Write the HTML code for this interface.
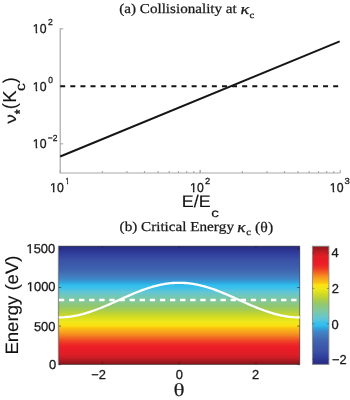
<!DOCTYPE html><html><head><meta charset="utf-8"><title>Collisionality and Critical Energy</title><style>html,body{margin:0;padding:0;background:#fff;width:350px;height:400px;overflow:hidden}svg{display:block;filter:blur(0.4px)}text{font-kerning:none;text-rendering:geometricPrecision}</style></head><body>
<svg width="350" height="400" viewBox="0 0 350 400">
<defs>
<linearGradient id="cb" x1="0" y1="1" x2="0" y2="0"><stop offset="0.0" stop-color="#262b80"/><stop offset="0.0321" stop-color="#2c3490"/><stop offset="0.0745" stop-color="#3242a0"/><stop offset="0.1168" stop-color="#3a52a6"/><stop offset="0.1591" stop-color="#3c5aab"/><stop offset="0.2014" stop-color="#3f64b0"/><stop offset="0.2437" stop-color="#4377ba"/><stop offset="0.2775" stop-color="#3d86c8"/><stop offset="0.3113" stop-color="#30a8e0"/><stop offset="0.3283" stop-color="#2ebdee"/><stop offset="0.3536" stop-color="#3cc0e8"/><stop offset="0.3875" stop-color="#62c6d6"/><stop offset="0.4213" stop-color="#72c8b8"/><stop offset="0.4552" stop-color="#80c8a0"/><stop offset="0.4805" stop-color="#8ac888"/><stop offset="0.5059" stop-color="#90c870"/><stop offset="0.5398" stop-color="#a8cc50"/><stop offset="0.5736" stop-color="#c2d530"/><stop offset="0.6074" stop-color="#dbdf20"/><stop offset="0.6413" stop-color="#f0e81a"/><stop offset="0.6751" stop-color="#fce012"/><stop offset="0.692" stop-color="#fbc20f"/><stop offset="0.7174" stop-color="#f8aa1e"/><stop offset="0.7428" stop-color="#f5921e"/><stop offset="0.7766" stop-color="#f26522"/><stop offset="0.8105" stop-color="#ee3a24"/><stop offset="0.8443" stop-color="#ec2027"/><stop offset="0.8782" stop-color="#e81c25"/><stop offset="0.912" stop-color="#e01e26"/><stop offset="0.9459" stop-color="#c81c24"/><stop offset="0.9712" stop-color="#a81a20"/><stop offset="1.0" stop-color="#8a1519"/></linearGradient>
<linearGradient id="im" x1="0" y1="0" x2="0" y2="1"><stop offset="0.0" stop-color="#262b80"/><stop offset="0.0321" stop-color="#2c3490"/><stop offset="0.0745" stop-color="#3242a0"/><stop offset="0.1168" stop-color="#3a52a6"/><stop offset="0.1591" stop-color="#3c5aab"/><stop offset="0.2014" stop-color="#3f64b0"/><stop offset="0.2437" stop-color="#4377ba"/><stop offset="0.2775" stop-color="#3d86c8"/><stop offset="0.3113" stop-color="#30a8e0"/><stop offset="0.3283" stop-color="#2ebdee"/><stop offset="0.3536" stop-color="#3cc0e8"/><stop offset="0.3875" stop-color="#62c6d6"/><stop offset="0.4213" stop-color="#72c8b8"/><stop offset="0.4552" stop-color="#80c8a0"/><stop offset="0.4805" stop-color="#8ac888"/><stop offset="0.5059" stop-color="#90c870"/><stop offset="0.5398" stop-color="#a8cc50"/><stop offset="0.5736" stop-color="#c2d530"/><stop offset="0.6074" stop-color="#dbdf20"/><stop offset="0.6413" stop-color="#f0e81a"/><stop offset="0.6751" stop-color="#fce012"/><stop offset="0.692" stop-color="#fbc20f"/><stop offset="0.7174" stop-color="#f8aa1e"/><stop offset="0.7428" stop-color="#f5921e"/><stop offset="0.7766" stop-color="#f26522"/><stop offset="0.8105" stop-color="#ee3a24"/><stop offset="0.8443" stop-color="#ec2027"/><stop offset="0.8782" stop-color="#e81c25"/><stop offset="0.912" stop-color="#e01e26"/><stop offset="0.9459" stop-color="#c81c24"/><stop offset="0.9712" stop-color="#a81a20"/><stop offset="1.0" stop-color="#8a1519"/></linearGradient>
</defs>
<path d="M60.2 28.3V173.0H340.2" fill="none" stroke="#a8a8a8" stroke-width="1.2"/>
<line x1="60.2" y1="28.80" x2="63.2" y2="28.80" stroke="#a8a8a8" stroke-width="1.1"/>
<line x1="60.2" y1="86.30" x2="63.2" y2="86.30" stroke="#a8a8a8" stroke-width="1.1"/>
<line x1="60.2" y1="143.80" x2="63.2" y2="143.80" stroke="#a8a8a8" stroke-width="1.1"/>
<line x1="60.20" y1="173.0" x2="60.20" y2="170.0" stroke="#a8a8a8" stroke-width="1.1"/>
<line x1="102.34" y1="173.0" x2="102.34" y2="171.0" stroke="#a8a8a8" stroke-width="1.1"/>
<line x1="127.00" y1="173.0" x2="127.00" y2="171.0" stroke="#a8a8a8" stroke-width="1.1"/>
<line x1="144.49" y1="173.0" x2="144.49" y2="171.0" stroke="#a8a8a8" stroke-width="1.1"/>
<line x1="158.06" y1="173.0" x2="158.06" y2="171.0" stroke="#a8a8a8" stroke-width="1.1"/>
<line x1="169.14" y1="173.0" x2="169.14" y2="171.0" stroke="#a8a8a8" stroke-width="1.1"/>
<line x1="178.51" y1="173.0" x2="178.51" y2="171.0" stroke="#a8a8a8" stroke-width="1.1"/>
<line x1="186.63" y1="173.0" x2="186.63" y2="171.0" stroke="#a8a8a8" stroke-width="1.1"/>
<line x1="193.79" y1="173.0" x2="193.79" y2="171.0" stroke="#a8a8a8" stroke-width="1.1"/>
<line x1="200.20" y1="173.0" x2="200.20" y2="170.0" stroke="#a8a8a8" stroke-width="1.1"/>
<line x1="200.20" y1="173.0" x2="200.20" y2="170.0" stroke="#a8a8a8" stroke-width="1.1"/>
<line x1="242.34" y1="173.0" x2="242.34" y2="171.0" stroke="#a8a8a8" stroke-width="1.1"/>
<line x1="267.00" y1="173.0" x2="267.00" y2="171.0" stroke="#a8a8a8" stroke-width="1.1"/>
<line x1="284.49" y1="173.0" x2="284.49" y2="171.0" stroke="#a8a8a8" stroke-width="1.1"/>
<line x1="298.06" y1="173.0" x2="298.06" y2="171.0" stroke="#a8a8a8" stroke-width="1.1"/>
<line x1="309.14" y1="173.0" x2="309.14" y2="171.0" stroke="#a8a8a8" stroke-width="1.1"/>
<line x1="318.51" y1="173.0" x2="318.51" y2="171.0" stroke="#a8a8a8" stroke-width="1.1"/>
<line x1="326.63" y1="173.0" x2="326.63" y2="171.0" stroke="#a8a8a8" stroke-width="1.1"/>
<line x1="333.79" y1="173.0" x2="333.79" y2="171.0" stroke="#a8a8a8" stroke-width="1.1"/>
<line x1="340.20" y1="173.0" x2="340.20" y2="170.0" stroke="#a8a8a8" stroke-width="1.1"/>
<line x1="60.2" y1="86.3" x2="339.7" y2="86.3" stroke="#151515" stroke-width="1.9" stroke-dasharray="5 5.11"/>
<line x1="60.2" y1="156.5" x2="339.7" y2="41.4" stroke="#151515" stroke-width="1.9"/>
<rect x="58.6" y="246.2" width="241.1" height="118.19999999999999" fill="url(#im)"/>
<rect x="58.6" y="246.2" width="241.1" height="118.19999999999999" fill="none" stroke="#000" stroke-opacity="0.5" stroke-width="1"/>
<polyline points="58.46,317.40 60.47,317.38 62.48,317.31 64.49,317.19 66.51,317.02 68.52,316.81 70.53,316.55 72.54,316.25 74.55,315.90 76.56,315.51 78.57,315.08 80.58,314.61 82.59,314.10 84.60,313.54 86.61,312.96 88.62,312.33 90.63,311.68 92.64,310.99 94.65,310.27 96.66,309.52 98.68,308.75 100.69,307.95 102.70,307.14 104.71,306.30 106.72,305.45 108.73,304.58 110.74,303.70 112.75,302.81 114.76,301.91 116.77,301.01 118.78,300.10 120.79,299.19 122.80,298.29 124.81,297.39 126.82,296.50 128.83,295.62 130.85,294.75 132.86,293.90 134.87,293.06 136.88,292.25 138.89,291.45 140.90,290.68 142.91,289.93 144.92,289.21 146.93,288.52 148.94,287.87 150.95,287.24 152.96,286.66 154.97,286.10 156.98,285.59 158.99,285.12 161.00,284.69 163.02,284.30 165.03,283.95 167.04,283.65 169.05,283.39 171.06,283.18 173.07,283.01 175.08,282.89 177.09,282.82 179.10,282.80 181.11,282.82 183.12,282.89 185.13,283.01 187.14,283.18 189.15,283.39 191.16,283.65 193.17,283.95 195.18,284.30 197.20,284.69 199.21,285.12 201.22,285.59 203.23,286.10 205.24,286.66 207.25,287.24 209.26,287.87 211.27,288.52 213.28,289.21 215.29,289.93 217.30,290.68 219.31,291.45 221.32,292.25 223.33,293.06 225.34,293.90 227.35,294.75 229.37,295.62 231.38,296.50 233.39,297.39 235.40,298.29 237.41,299.19 239.42,300.10 241.43,301.01 243.44,301.91 245.45,302.81 247.46,303.70 249.47,304.58 251.48,305.45 253.49,306.30 255.50,307.14 257.51,307.95 259.52,308.75 261.54,309.52 263.55,310.27 265.56,310.99 267.57,311.68 269.58,312.33 271.59,312.96 273.60,313.54 275.61,314.10 277.62,314.61 279.63,315.08 281.64,315.51 283.65,315.90 285.66,316.25 287.67,316.55 289.68,316.81 291.69,317.02 293.71,317.19 295.72,317.31 297.73,317.38 299.74,317.40" fill="none" stroke="#fff" stroke-width="2.3"/>
<line x1="58.9" y1="300" x2="299.7" y2="300" stroke="#fff" stroke-width="2.3" stroke-dasharray="5.3 4.8"/>
<line x1="102.30" y1="364.4" x2="102.30" y2="361.9" stroke="#222" stroke-opacity="0.6" stroke-width="1"/>
<line x1="102.30" y1="246.2" x2="102.30" y2="248.7" stroke="#222" stroke-opacity="0.6" stroke-width="1"/>
<line x1="179.10" y1="364.4" x2="179.10" y2="361.9" stroke="#222" stroke-opacity="0.6" stroke-width="1"/>
<line x1="179.10" y1="246.2" x2="179.10" y2="248.7" stroke="#222" stroke-opacity="0.6" stroke-width="1"/>
<line x1="255.90" y1="364.4" x2="255.90" y2="361.9" stroke="#222" stroke-opacity="0.6" stroke-width="1"/>
<line x1="255.90" y1="246.2" x2="255.90" y2="248.7" stroke="#222" stroke-opacity="0.6" stroke-width="1"/>
<line x1="58.6" y1="364.70" x2="61.1" y2="364.70" stroke="#222" stroke-opacity="0.6" stroke-width="1"/>
<line x1="299.7" y1="364.70" x2="297.2" y2="364.70" stroke="#222" stroke-opacity="0.6" stroke-width="1"/>
<line x1="58.6" y1="326.10" x2="61.1" y2="326.10" stroke="#222" stroke-opacity="0.6" stroke-width="1"/>
<line x1="299.7" y1="326.10" x2="297.2" y2="326.10" stroke="#222" stroke-opacity="0.6" stroke-width="1"/>
<line x1="58.6" y1="287.50" x2="61.1" y2="287.50" stroke="#222" stroke-opacity="0.6" stroke-width="1"/>
<line x1="299.7" y1="287.50" x2="297.2" y2="287.50" stroke="#222" stroke-opacity="0.6" stroke-width="1"/>
<line x1="58.6" y1="248.90" x2="61.1" y2="248.90" stroke="#222" stroke-opacity="0.6" stroke-width="1"/>
<line x1="299.7" y1="248.90" x2="297.2" y2="248.90" stroke="#222" stroke-opacity="0.6" stroke-width="1"/>
<line x1="58.300000000000004" y1="246.2" x2="58.300000000000004" y2="364.4" stroke="#999" stroke-width="0.8"/>
<rect x="312.4" y="246.2" width="16.5" height="118.19999999999999" fill="url(#cb)" stroke="#8a8a8a" stroke-width="0.9"/>
<line x1="312.4" y1="253.0" x2="314.4" y2="253.0" stroke="#333" stroke-opacity="0.6" stroke-width="0.8"/>
<line x1="328.9" y1="253.0" x2="326.9" y2="253.0" stroke="#333" stroke-opacity="0.6" stroke-width="0.8"/>
<line x1="312.4" y1="288.4" x2="314.4" y2="288.4" stroke="#333" stroke-opacity="0.6" stroke-width="0.8"/>
<line x1="328.9" y1="288.4" x2="326.9" y2="288.4" stroke="#333" stroke-opacity="0.6" stroke-width="0.8"/>
<line x1="312.4" y1="323.8" x2="314.4" y2="323.8" stroke="#333" stroke-opacity="0.6" stroke-width="0.8"/>
<line x1="328.9" y1="323.8" x2="326.9" y2="323.8" stroke="#333" stroke-opacity="0.6" stroke-width="0.8"/>
<line x1="312.4" y1="359.2" x2="314.4" y2="359.2" stroke="#333" stroke-opacity="0.6" stroke-width="0.8"/>
<line x1="328.9" y1="359.2" x2="326.9" y2="359.2" stroke="#333" stroke-opacity="0.6" stroke-width="0.8"/>
<text id="ya2_10" transform="translate(32.87 33.34) scale(0.9500 1)" font-family="'Liberation Sans', sans-serif" font-size="12.90" fill="#1a1a1a" stroke="#1a1a1a" stroke-width="0.3" stroke-linejoin="round">10</text>
<text id="ya2_e" transform="translate(47.89 24.85) scale(0.9782 1)" font-family="'Liberation Sans', sans-serif" font-size="8.80" fill="#1a1a1a" stroke="#1a1a1a" stroke-width="0.3" stroke-linejoin="round">2</text>
<text id="ya0_10" transform="translate(32.87 91.18) scale(0.9500 1)" font-family="'Liberation Sans', sans-serif" font-size="12.90" fill="#1a1a1a" stroke="#1a1a1a" stroke-width="0.3" stroke-linejoin="round">10</text>
<text id="ya0_e" transform="translate(48.23 83.04) scale(0.9554 1)" font-family="'Liberation Sans', sans-serif" font-size="8.80" fill="#1a1a1a" stroke="#1a1a1a" stroke-width="0.3" stroke-linejoin="round">0</text>
<text id="yam2_10" transform="translate(32.87 148.42) scale(0.9500 1)" font-family="'Liberation Sans', sans-serif" font-size="12.90" fill="#1a1a1a" stroke="#1a1a1a" stroke-width="0.3" stroke-linejoin="round">10</text>
<text id="yam2_e" transform="translate(47.74 140.59) scale(0.9660 1)" font-family="'Liberation Sans', sans-serif" font-size="8.80" fill="#1a1a1a" stroke="#1a1a1a" stroke-width="0.3" stroke-linejoin="round">−2</text>
<text id="xa1_10" transform="translate(50.08 191.57) scale(0.9500 1)" font-family="'Liberation Sans', sans-serif" font-size="12.90" fill="#1a1a1a" stroke="#1a1a1a" stroke-width="0.3" stroke-linejoin="round">10</text>
<text id="xa1_e" transform="translate(65.62 183.67) scale(0.7456 1)" font-family="'Liberation Sans', sans-serif" font-size="8.80" fill="#1a1a1a" stroke="#1a1a1a" stroke-width="0.3" stroke-linejoin="round">1</text>
<text id="xa2_10" transform="translate(190.08 191.57) scale(0.9500 1)" font-family="'Liberation Sans', sans-serif" font-size="12.90" fill="#1a1a1a" stroke="#1a1a1a" stroke-width="0.3" stroke-linejoin="round">10</text>
<text id="xa2_e" transform="translate(204.95 183.57) scale(1.0615 1)" font-family="'Liberation Sans', sans-serif" font-size="8.80" fill="#1a1a1a" stroke="#1a1a1a" stroke-width="0.3" stroke-linejoin="round">2</text>
<text id="xa3_10" transform="translate(329.86 191.52) scale(0.9500 1)" font-family="'Liberation Sans', sans-serif" font-size="12.90" fill="#1a1a1a" stroke="#1a1a1a" stroke-width="0.3" stroke-linejoin="round">10</text>
<text id="xa3_e" transform="translate(344.62 183.74) scale(1.0750 1)" font-family="'Liberation Sans', sans-serif" font-size="8.80" fill="#1a1a1a" stroke="#1a1a1a" stroke-width="0.3" stroke-linejoin="round">3</text>
<text id="xl_EE" transform="translate(181.76 206.84) scale(1.0673 1)" font-family="'Liberation Sans', sans-serif" font-size="16.77" fill="#111" stroke="#111" stroke-width="0.15" stroke-linejoin="round">E/E</text>
<text id="xl_c" transform="translate(211.19 217.09) scale(1.2745 1)" font-family="'Liberation Sans', sans-serif" font-size="11.93" fill="#111" stroke="#111" stroke-width="0.15" stroke-linejoin="round">c</text>
<text id="yl_nu" transform="translate(15.80 123.84) rotate(-90) scale(1.2322 1)" font-family="'Liberation Sans', sans-serif" font-size="15.55" fill="#111" stroke="#111" stroke-width="0.15" stroke-linejoin="round">ν</text>
<text id="yl_st" transform="translate(24.87 114.25) rotate(-90) scale(0.8038 1)" font-family="'Liberation Sans', sans-serif" font-size="14.96" fill="#111" stroke="#111" stroke-width="0.5" stroke-linejoin="round">*</text>
<text id="yl_lp" transform="translate(16.23 109.13) rotate(-90) scale(0.9729 1)" font-family="'Liberation Sans', sans-serif" font-size="19.02" fill="#111" stroke="#111" stroke-width="0.15" stroke-linejoin="round">(</text>
<text id="yl_K" transform="translate(15.80 102.65) rotate(-90) scale(0.9856 1)" font-family="'Liberation Sans', sans-serif" font-size="18.72" fill="#111" stroke="#111" stroke-width="0.15" stroke-linejoin="round">K</text>
<text id="yl_c" transform="translate(25.24 90.94) rotate(-90) scale(1.1513 1)" font-family="'Liberation Sans', sans-serif" font-size="13.50" fill="#111" stroke="#111" stroke-width="0.15" stroke-linejoin="round">c</text>
<text id="yl_rp" transform="translate(16.43 82.99) rotate(-90) scale(0.8793 1)" font-family="'Liberation Sans', sans-serif" font-size="18.46" fill="#111" stroke="#111" stroke-width="0.15" stroke-linejoin="round">)</text>
<text id="ta_txt" transform="translate(119.30 13.28) scale(1.1113 1)" font-family="'Liberation Serif', serif" font-size="13.60" fill="#1a1a1a" stroke="#1a1a1a" stroke-width="0.25" stroke-linejoin="round">(a) Collisionality at</text>
<text id="ta_k" transform="translate(240.39 14.27) scale(1.1974 1)" font-family="'Liberation Serif', serif" font-size="15.20" fill="#1a1a1a" font-style="italic" stroke="#1a1a1a" stroke-width="0.3" stroke-linejoin="round">κ</text>
<text id="ta_c" transform="translate(249.58 17.68) scale(1.1627 1)" font-family="'Liberation Serif', serif" font-size="9.20" fill="#1a1a1a" stroke="#1a1a1a" stroke-width="0.3" stroke-linejoin="round">c</text>
<text id="yb_1500" transform="translate(26.50 253.04) scale(1.0000 1)" font-family="'Liberation Sans', sans-serif" font-size="12.90" fill="#1a1a1a" stroke="#1a1a1a" stroke-width="0.3" stroke-linejoin="round">1500</text>
<text id="yb_1000" transform="translate(26.83 291.32) scale(1.0000 1)" font-family="'Liberation Sans', sans-serif" font-size="12.90" fill="#1a1a1a" stroke="#1a1a1a" stroke-width="0.3" stroke-linejoin="round">1000</text>
<text id="yb_500" transform="translate(33.95 330.73) scale(1.0000 1)" font-family="'Liberation Sans', sans-serif" font-size="12.90" fill="#1a1a1a" stroke="#1a1a1a" stroke-width="0.3" stroke-linejoin="round">500</text>
<text id="yb_0" transform="translate(48.93 369.25) scale(1.0000 1)" font-family="'Liberation Sans', sans-serif" font-size="12.90" fill="#1a1a1a" stroke="#1a1a1a" stroke-width="0.3" stroke-linejoin="round">0</text>
<text id="xb_m2" transform="translate(91.26 378.85) scale(1.0000 1)" font-family="'Liberation Sans', sans-serif" font-size="12.90" fill="#1a1a1a" stroke="#1a1a1a" stroke-width="0.3" stroke-linejoin="round">−2</text>
<text id="xb_0" transform="translate(175.71 379.35) scale(1.0000 1)" font-family="'Liberation Sans', sans-serif" font-size="12.90" fill="#1a1a1a" stroke="#1a1a1a" stroke-width="0.3" stroke-linejoin="round">0</text>
<text id="xb_2" transform="translate(252.05 378.71) scale(1.0000 1)" font-family="'Liberation Sans', sans-serif" font-size="12.90" fill="#1a1a1a" stroke="#1a1a1a" stroke-width="0.3" stroke-linejoin="round">2</text>
<text id="xb_th" transform="translate(173.57 396.39) scale(1.2520 1)" font-family="'Liberation Serif', serif" font-size="18.52" fill="#1a1a1a" stroke="#1a1a1a" stroke-width="0.15" stroke-linejoin="round">θ</text>
<text id="ylb" transform="translate(17.67 354.61) rotate(-90) scale(1.0376 1)" font-family="'Liberation Sans', sans-serif" font-size="17.91" fill="#111" stroke="#111" stroke-width="0.15" stroke-linejoin="round">Energy (eV)</text>
<text id="tb_txt" transform="translate(119.60 231.31) scale(1.1141 1)" font-family="'Liberation Serif', serif" font-size="13.60" fill="#1a1a1a" stroke="#1a1a1a" stroke-width="0.25" stroke-linejoin="round">(b) Critical Energy</text>
<text id="tb_k" transform="translate(237.33 231.85) scale(1.1275 1)" font-family="'Liberation Serif', serif" font-size="15.20" fill="#1a1a1a" font-style="italic" stroke="#1a1a1a" stroke-width="0.3" stroke-linejoin="round">κ</text>
<text id="tb_c" transform="translate(246.14 235.38) scale(1.1442 1)" font-family="'Liberation Serif', serif" font-size="9.20" fill="#1a1a1a" stroke="#1a1a1a" stroke-width="0.3" stroke-linejoin="round">c</text>
<text id="tb_th" transform="translate(255.12 231.52) scale(1.0747 1)" font-family="'Liberation Serif', serif" font-size="14.66" fill="#1a1a1a" stroke="#1a1a1a" stroke-width="0.25" stroke-linejoin="round">(θ)</text>
<text id="cb_4" transform="translate(331.59 257.23) scale(1.0000 1)" font-family="'Liberation Sans', sans-serif" font-size="12.90" fill="#1a1a1a" stroke="#1a1a1a" stroke-width="0.3" stroke-linejoin="round">4</text>
<text id="cb_2" transform="translate(331.64 293.17) scale(1.0000 1)" font-family="'Liberation Sans', sans-serif" font-size="12.90" fill="#1a1a1a" stroke="#1a1a1a" stroke-width="0.3" stroke-linejoin="round">2</text>
<text id="cb_0" transform="translate(331.58 328.61) scale(1.0000 1)" font-family="'Liberation Sans', sans-serif" font-size="12.90" fill="#1a1a1a" stroke="#1a1a1a" stroke-width="0.3" stroke-linejoin="round">0</text>
<text id="cb_m2" transform="translate(332.04 363.70) scale(1.0000 1)" font-family="'Liberation Sans', sans-serif" font-size="12.90" fill="#1a1a1a" stroke="#1a1a1a" stroke-width="0.3" stroke-linejoin="round">−2</text>
<rect x="33.05" y="31.65" width="2.65" height="2.35" fill="#fff"/>
<rect x="37.28" y="31.65" width="2.45" height="2.35" fill="#fff"/>
<rect x="33.05" y="89.65" width="2.65" height="2.35" fill="#fff"/>
<rect x="37.28" y="89.65" width="2.45" height="2.35" fill="#fff"/>
<rect x="33.05" y="146.65" width="2.65" height="2.35" fill="#fff"/>
<rect x="37.28" y="146.65" width="2.45" height="2.35" fill="#fff"/>
<rect x="50.26" y="190.65" width="2.65" height="2.35" fill="#fff"/>
<rect x="54.49" y="190.65" width="2.45" height="2.35" fill="#fff"/>
<rect x="65.37" y="182.65" width="1.65" height="2.35" fill="#fff"/>
<rect x="68.10" y="182.65" width="1.50" height="2.35" fill="#fff"/>
<rect x="190.26" y="190.65" width="2.65" height="2.35" fill="#fff"/>
<rect x="194.49" y="190.65" width="2.45" height="2.35" fill="#fff"/>
<rect x="330.05" y="190.65" width="2.65" height="2.35" fill="#fff"/>
<rect x="334.28" y="190.65" width="2.45" height="2.35" fill="#fff"/>
<rect x="26.73" y="251.65" width="2.76" height="2.35" fill="#fff"/>
<rect x="31.13" y="251.65" width="2.56" height="2.35" fill="#fff"/>
<rect x="27.07" y="289.65" width="2.76" height="2.35" fill="#fff"/>
<rect x="31.47" y="289.65" width="2.56" height="2.35" fill="#fff"/>
</svg></body></html>
